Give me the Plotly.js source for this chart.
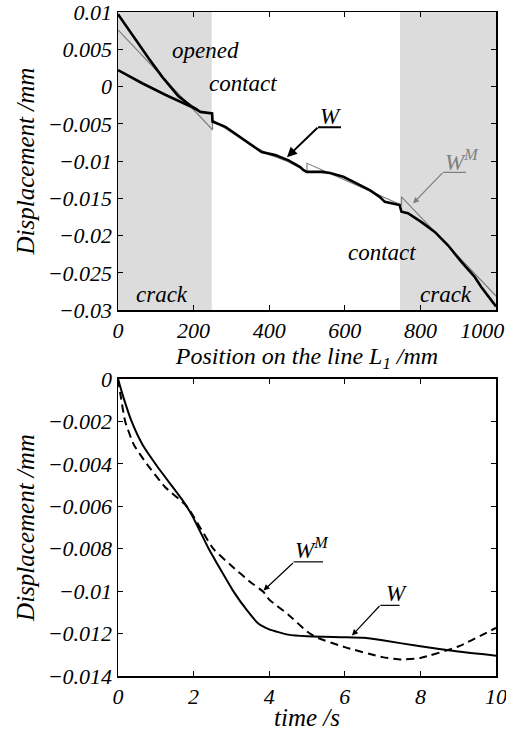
<!DOCTYPE html>
<html>
<head>
<meta charset="utf-8">
<script src="https://cdn.plot.ly/plotly-3.0.1.min.js"></script>
<style>html,body{margin:0;padding:0;background:#fff;}</style>
</head>
<body>
<div id="chart" style="width:506px;height:731px"></div>
<script>
// ---- Top panel: displacement along line L1 ----
const posW_faceA = [0, 50, 81, 117, 160, 196, 218, 249, 250, 284, 310, 345, 380, 416, 451, 482, 490, 499, 539, 561, 596, 631, 666, 692, 706, 745, 750, 767, 803, 838, 873, 908, 943, 961, 974, 1000];
const dispW_faceA = [0.0097, 0.0060, 0.0038, 0.0013, -0.0013, -0.0027, -0.0034, -0.0036, -0.0047, -0.0054, -0.0063, -0.0076, -0.0088, -0.0092, -0.0099, -0.0108, -0.0112, -0.01145, -0.01145, -0.0116, -0.0121, -0.0130, -0.0139, -0.0148, -0.01547, -0.0159, -0.0168, -0.0170, -0.0182, -0.0195, -0.0213, -0.0235, -0.0255, -0.0269, -0.0278, -0.0295];
const posW_faceB = [0, 64, 125, 187, 210];
const dispW_faceB = [0.0022, 0.00044, -0.0011, -0.0025, -0.0031];
const posWM = [0, 250, 250, 300, 350, 400, 450, 500, 500, 750, 750, 1000];
const dispWM = [0.0076, -0.0058, -0.0045, -0.0062, -0.0078, -0.0091, -0.0101, -0.0114, -0.0103, -0.0159, -0.0148, -0.0281];
const crackZones = [[0, 248], [746, 1000]];
const topXTicks = [0, 200, 400, 600, 800, 1000];
const topXLabels = ['0', '200', '400', '600', '800', '1000\u00a0\u00a0\u00a0\u00a0\u00a0'];
const topYTicks = [0.01, 0.005, 0, -0.005, -0.01, -0.015, -0.02, -0.025, -0.03];
const topYLabels = ['0.01', '0.005', '0', '\u22120.005', '\u22120.01', '\u22120.015', '\u22120.02', '\u22120.025', '\u22120.03'];

// ---- Bottom panel: displacement vs time ----
const timeW = [0, 0.15, 0.36, 0.65, 1.03, 1.45, 1.7, 1.95, 2.4, 3.05, 3.41, 3.72, 4.0, 4.5, 5, 6, 6.5, 7, 8, 9, 10];
const dispW_t = [0, -0.0009, -0.002, -0.0031, -0.0041, -0.0051, -0.0057, -0.0064, -0.008, -0.010, -0.0109, -0.01154, -0.0118, -0.01205, -0.01213, -0.01217, -0.0122, -0.01232, -0.0126, -0.01285, -0.01304];
const timeWM = [0, 0.08, 0.19, 0.42, 0.76, 1.25, 1.82, 2.52, 3.0, 3.5, 3.85, 4.0, 4.5, 5, 5.24, 6, 7, 7.5, 8, 9, 10];
const dispWM_t = [0, -0.0009, -0.002, -0.0031, -0.004, -0.0051, -0.006, -0.008, -0.0088, -0.00957, -0.01004, -0.0104, -0.0111, -0.0119, -0.01217, -0.01264, -0.01311, -0.01322, -0.01315, -0.01261, -0.01173];
const botXTicks = [0, 2, 4, 6, 8, 10];
const botXLabels = ['0', '2', '4', '6', '8', '10'];
const botYTicks = [0, -0.002, -0.004, -0.006, -0.008, -0.01, -0.012, -0.014];
const botYLabels = ['0', '\u22120.002', '\u22120.004', '\u22120.006', '\u22120.008', '\u22120.01', '\u22120.012', '\u22120.014'];

function fnt(size, color) {
  return {family: 'Liberation Serif', size: size, style: 'italic', color: color || '#000'};
}

const traces = [
  {x: posWM, y: dispWM, xaxis: 'x', yaxis: 'y', mode: 'lines', line: {color: '#808080', width: 1.2}, showlegend: false},
  {x: posW_faceB, y: dispW_faceB, xaxis: 'x', yaxis: 'y', mode: 'lines', line: {color: '#000', width: 2.6}, showlegend: false},
  {x: posW_faceA, y: dispW_faceA, xaxis: 'x', yaxis: 'y', mode: 'lines', line: {color: '#000', width: 2.6}, showlegend: false},
  {x: timeW, y: dispW_t, xaxis: 'x2', yaxis: 'y2', mode: 'lines', line: {color: '#000', width: 2, shape: 'spline', smoothing: 0.5}, showlegend: false},
  {x: timeWM, y: dispWM_t, xaxis: 'x2', yaxis: 'y2', mode: 'lines', line: {color: '#000', width: 2, dash: '8px,5px', shape: 'spline', smoothing: 0.5}, showlegend: false}
];

function axisBase(extra) {
  return Object.assign({
    showline: true, linecolor: '#000', linewidth: 1.5, mirror: 'ticks',
    ticks: 'inside', ticklen: 5, tickwidth: 1, tickcolor: '#000',
    showgrid: false, zeroline: false, tickmode: 'array', tickfont: fnt(22),
    ticklabeloverflow: 'allow'
  }, extra);
}

const shapes = crackZones.map(z => ({
  type: 'rect', xref: 'x', yref: 'y domain', x0: z[0], x1: z[1], y0: 0, y1: 1,
  fillcolor: '#dcdcdc', line: {width: 0}, layer: 'below'
}));
shapes.push({type: 'line', xref: 'x', yref: 'y', x0: 529, x1: 590, y0: -0.00546, y1: -0.00546, line: {color: '#000', width: 2}});
shapes.push({type: 'line', xref: 'x', yref: 'y', x0: 860, x1: 921, y0: -0.01153, y1: -0.01153, line: {color: '#808080', width: 1.2}});
shapes.push({type: 'line', xref: 'x2', yref: 'y2', x0: 4.645, x1: 5.424, y0: -0.00862, y1: -0.00862, line: {color: '#000', width: 1.2}});
shapes.push({type: 'line', xref: 'x2', yref: 'y2', x0: 6.94, x1: 7.45, y0: -0.01067, y1: -0.01067, line: {color: '#000', width: 1.2}});

function arrow(xr, yr, x, y, ax, ay, w, c) {
  return {xref: xr, yref: yr, x: x, y: y, ax: ax, ay: ay, text: '', showarrow: true, arrowhead: 2, arrowsize: 1,
    arrowwidth: w, arrowcolor: c, standoff: 0, borderpad: 0, font: {family: 'Liberation Serif', size: 1}};
}
const annotations = [
  {xref: 'x', yref: 'y', x: 231, y: 0.00487, text: 'opened', showarrow: false, font: fnt(23)},
  {xref: 'x', yref: 'y', x: 331, y: 0.00044, text: 'contact', showarrow: false, font: fnt(23)},
  {xref: 'x', yref: 'y', x: 698, y: -0.02222, text: 'contact', showarrow: false, font: fnt(23)},
  {xref: 'x', yref: 'y', x: 117, y: -0.02784, text: 'crack', showarrow: false, font: fnt(23)},
  {xref: 'x', yref: 'y', x: 869, y: -0.02784, text: 'crack', showarrow: false, font: fnt(23)},
  {xref: 'x', yref: 'y', x: 563, y: -0.00398, text: 'W', showarrow: false, font: fnt(23)},
  {xref: 'x', yref: 'y', x: 909, y: -0.00988, text: 'W<sup>M</sup>', showarrow: false, font: fnt(23, '#808080')},
  arrow('x', 'y', 447, -0.00948, 31, -30, 2, '#000'),
  arrow('x', 'y', 780.5, -0.01568, 30, -31, 1.2, '#808080'),
  {xref: 'x2', yref: 'y2', x: 5.14, y: -0.00798, text: 'W<sup>M</sup>', showarrow: false, font: fnt(23)},
  {xref: 'x2', yref: 'y2', x: 7.36, y: -0.0101, text: 'W', showarrow: false, font: fnt(23)},
  arrow('x2', 'y2', 3.85, -0.00997, 30, -28, 1.2, '#000'),
  arrow('x2', 'y2', 6.19, -0.01209, 28, -30, 1.2, '#000')
];

const layout = {
  width: 506, height: 731,
  margin: {l: 118, r: 10, t: 12, b: 55},
  font: {family: 'Liberation Serif', color: '#000'},
  paper_bgcolor: '#fff', plot_bgcolor: 'rgba(0,0,0,0)',
  showlegend: false,
  xaxis: axisBase({domain: [0, 1], anchor: 'y', range: [0, 1000], tickvals: topXTicks, ticktext: topXLabels,
    title: {text: 'Position on the line L<sub>1</sub> /mm', font: fnt(24), standoff: 0}}),
  yaxis: axisBase({domain: [0.551, 1], anchor: 'x', range: [-0.03, 0.01], tickvals: topYTicks, ticktext: topYLabels,
    title: {text: 'Displacement /mm', font: fnt(25), standoff: 6}}),
  xaxis2: axisBase({domain: [0, 1], anchor: 'y2', range: [0, 10], tickvals: botXTicks, ticktext: botXLabels,
    title: {text: 'time /s', font: fnt(25), standoff: 0}}),
  yaxis2: axisBase({domain: [0, 0.4473], anchor: 'x2', range: [-0.014, 0], tickvals: botYTicks, ticktext: botYLabels,
    title: {text: 'Displacement /mm', font: fnt(25), standoff: 6}}),
  shapes: shapes,
  annotations: annotations
};

Plotly.newPlot('chart', traces, layout, {displayModeBar: false, staticPlot: true});
</script>
</body>
</html>
